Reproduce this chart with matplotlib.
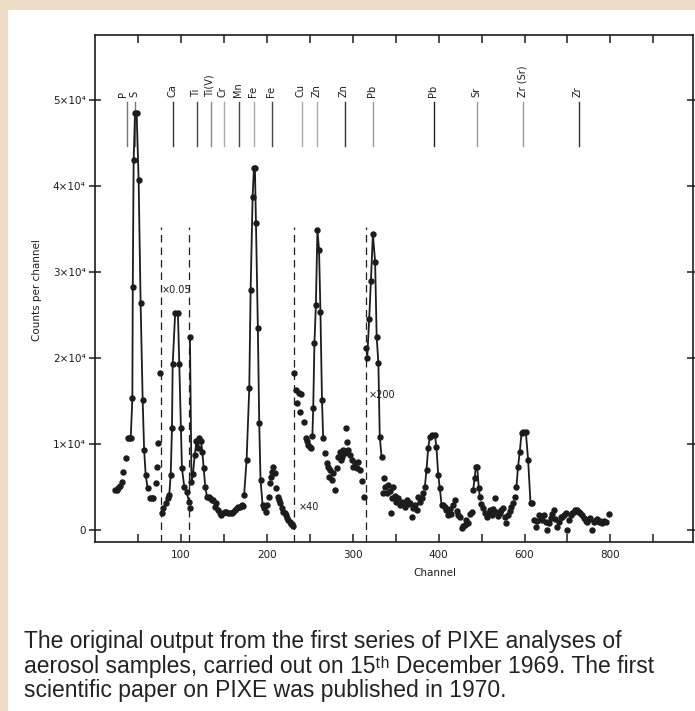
import numpy as np
import matplotlib.pyplot as plt
from matplotlib.patches import Rectangle

# ---- spectrum points (channel, counts per channel) ----
channel = [
    23.6, 25.6, 27.5, 29.5, 31.4, 33.3, 36.4, 38.5, 39.6,
    41.9, 43.8, 44.3, 45.3, 46.9, 48.8, 51.1, 53.4, 55.8, 57.5, 59.3, 61.6,
    64.0, 66.3, 68.2, 70.9, 72.8, 74.0, 76.0,
    78.6, 79.8, 82.5, 84.9, 86.7, 88.4, 89.9, 90.7, 93.6, 96.8, 98.4, 100.3,
    101.5, 104.2, 107.0, 109.6, 110.4,
    110.8, 112.6, 114.3, 116.4, 118.4, 120.2, 121.8, 123.6, 125.2, 126.8, 128.6, 130.6,
    132.6, 134.4, 136.2, 138.0, 139.9, 141.5, 143.3, 145.2, 147.2, 149.3, 151.3,
    153.3, 155.3, 157.3, 159.3, 161.2, 163.2, 165.1, 167.0, 169.0, 171.0, 172.8,
    173.8, 176.7, 179.8, 181.4, 183.7, 185.2, 186.4, 187.6, 189.8, 191.4, 192.9, 195.3,
    196.8, 198.8, 200.3, 202.7, 203.8, 205.5, 206.8, 207.9, 209.7, 211.4, 213.2,
    214.9, 216.0, 217.6, 219.3, 220.8, 222.4, 223.8, 225.3, 226.7, 228.3, 229.6, 231.0,
    232.2, 234.1, 235.9, 237.5, 238.7, 240.5, 243.4, 245.7, 247.2, 248.7, 250.3, 251.9,
    253.2, 254.2, 255.6, 257.3, 259.1, 261.0, 262.6, 264.4, 265.8,
    268.2, 270.0, 271.7, 272.9, 274.3, 275.6, 277.5, 279.4, 281.4, 283.3, 285.2,
    286.5, 287.6, 289.1, 290.8, 292.6, 293.9, 295.0, 296.9, 298.8, 300.8, 302.7,
    304.6, 306.6, 308.5, 310.4, 313.5, 315.4,
    317.0, 319.3, 321.3, 323.6, 326.2, 328.0, 330.0, 331.6, 333.7,
    335.6, 336.6, 338.2, 339.8, 341.4, 343.0, 344.2, 346.0, 347.3, 349.0, 351.0,
    353.0, 355.0, 357.0, 359.0, 360.8, 362.8, 364.6, 366.6, 368.6, 370.5, 372.5,
    374.4, 376.3, 378.2, 380.2, 382.1,
    384.0, 386.0, 387.9, 389.9, 391.9, 395.7, 397.5, 399.6, 403.0, 407.0,
    410.5, 414.6, 418.4, 422.3, 426.0, 430.0, 434.0, 438.0, 442.0, 446.0, 449.5,
    453.5, 457.2, 461.0, 465.0, 469.0, 472.8, 476.7,
    480.5, 483.8, 486.7, 489.8, 493.7, 496.0,
    499.5, 502.3, 507.0, 511.6, 515.4, 519.2, 523.3, 527.0, 531.0, 534.8, 538.6,
    542.5, 546.3, 550.0, 554.0, 558.0, 562.0, 565.8, 569.5, 573.5, 577.4,
    581.2, 585.0, 589.0, 593.0, 596.7, 603.0, 608.4, 614.0, 617.7,
    621.6, 625.6, 629.5, 633.4, 637.2, 641.1, 645.0, 648.9, 652.8, 656.6, 660.5,
    664.3, 668.1, 672.0, 676.0, 680.0, 683.8, 687.7, 691.5, 695.4, 699.3, 703.1,
    707.0, 710.9, 714.8, 718.6, 722.5, 726.4, 730.2, 734.1, 738.0, 741.9, 745.8,
    749.6, 753.5, 757.4, 761.3, 765.2, 769.0, 772.8, 776.7, 780.6, 784.5, 790.7, 797.0,
]
counts = [
    4650, 4650, 4850, 5100, 5620, 6780, 8340, 10700, 10660,
    10660, 15300, 28300, 43000, 48500, 48500, 40700, 26400, 15100, 9300, 6400, 4850,
    3700, 3690, 3690, 5430, 7370, 10080, 18220,
    1940, 2520, 3100, 3690, 4070, 6400, 11830, 19300, 25200, 25200, 19300, 11830,
    7170, 5040, 4460, 3300, 2520,
    22490, 5620, 6500, 8720, 10400, 9500, 10660, 10400, 9100, 7170, 5040, 3880,
    3880, 3690, 3490, 3490, 2710, 3100, 2330, 1940, 1740, 1940, 2130,
    2130, 1940, 1940, 1940, 2130, 2330, 2520, 2710, 2710, 2900, 2790,
    4070, 8140, 16470, 27900, 38760, 42050, 42050, 35680, 23520, 12400, 5810, 2910,
    2520, 2130, 2910, 3880, 5430, 6200, 6780, 7290, 6590, 4850, 3880,
    3490, 3100, 2520, 2130, 1940, 1740, 1360, 1160, 970, 750, 660, 470,
    18220, 16300, 14730, 15900, 13760, 15850, 12600, 10660, 10300, 9880, 9600, 9500,
    10900, 14150, 21700, 26160, 34880, 32560, 25380, 15100, 10660,
    8920, 7800, 7370, 6200, 6980, 5850, 6600, 4650, 7170, 8530, 9110,
    8140, 8530, 9300, 8900, 11830, 10270, 9300, 8720, 8140, 7370, 7750,
    7170, 7950, 6980, 5700, 3880, 21130,
    19970, 24500, 28900, 34400, 31200, 22480, 19400, 10850, 8520,
    4260, 6010, 5000, 4260, 5230, 4500, 1940, 3690, 5040, 4000, 3300,
    3690, 2900, 3300, 3100, 2710, 3490, 3000, 3100, 1550, 2520, 2900,
    2330, 3880, 3300, 3690, 4260,
    5000, 6980, 9500, 10850, 11050, 11050, 9690, 6400, 4850, 2910,
    2900, 2710, 2300, 1740, 2500, 1900, 2900, 3490, 2200, 1800, 1550,
    200, 500, 580, 1200, 800, 1900, 2130,
    4650, 6000, 7290, 7370, 4850, 3880,
    3000, 2520, 2000, 1550, 1900, 2300, 1740, 2400, 3690, 2100, 1600,
    1940, 2300, 2520, 1500, 780, 1800, 2200, 2710, 3100, 3880,
    5000, 7370, 9100, 11240, 11430, 11430, 8140, 3100, 3100,
    1200, 390, 1000, 1800, 1550, 1200, 1740, 900, 0, 800, 1360,
    1900, 2330, 1300, 390, 970, 1500, 1550, 1700, 1940, 0, 1200,
    1740, 1950, 2130, 2300, 2330, 2100, 1940, 1700, 1360, 1100, 970,
    1300, 1360, 0, 900, 1160, 1300, 970, 1100, 780, 1100, 970, 1900,
]

# channel ranges joined by a drawn line (the peaks)
peak_spans = [(41, 62), (78, 110), (110.6, 131), (173, 196), (253, 266),
              (316.5, 334), (383.5, 407.5), (480, 496.5), (581, 618)]

# element markers along the top
elements = ['P', 'S', 'Ca', 'Ti', 'Ti(V)', 'Cr', 'Mn', 'Fe', 'Fe', 'Cu', 'Zn',
            'Zn', 'Pb', 'Pb', 'Sr', 'Zr (Sr)', 'Zr']
element_ch = [37.2, 46.9, 91.4, 118.6, 135.2, 150.3, 168.1, 185.2, 206.5, 240.7,
              258.8, 291, 323.3, 394.5, 489.8, 596.7, 727]

# scale change marks (dashed lines) and their factors
scale_edges = [77, 110, 232, 316]
scale_labels = ['×0.05', '×40', '×200']
scale_label_ch = [78, 237, 319]
scale_label_y = [27900, 2700, 15700]

y_ticks = [0, 10000, 20000, 30000, 40000, 50000]
y_labels = ['0', '1×10⁴', '2×10⁴', '3×10⁴', '4×10⁴', '5×10⁴']
x_major = [100, 200, 300, 400, 600, 800]
x_minor = [50, 150, 250, 350, 500, 700, 900]

caption_lines = [
    'The original output from the first series of PIXE analyses of',
    'aerosol samples, carried out on 15ᵗʰ December 1969. The first',
    'scientific paper on PIXE was published in 1970.',
]

ink = '#1c1c1c'


# channels above 400 are drawn at half scale in the original
def fwd(x):
    x = np.asarray(x, dtype=float)
    return np.where(x <= 400, x, 400 + (x - 400) / 2)


def inv(x):
    x = np.asarray(x, dtype=float)
    return np.where(x <= 400, x, 400 + (x - 400) * 2)


fig = plt.figure(figsize=(6.95, 7.11), dpi=100)
fig.patch.set_facecolor('#efdcc6')
fig.add_artist(Rectangle((8 / 695, 0), 1, 1 - 10 / 711, transform=fig.transFigure,
                         facecolor='white', edgecolor='none', zorder=-5))

ax = fig.add_axes([94.7 / 695, 1 - 541.7 / 711, 598.3 / 695, 506.7 / 711])
ax.set_xscale('function', functions=(fwd, inv))
ax.set_xlim(0, 992)
ax.set_ylim(-1360, 57560)

ch = np.array(channel)
ct = np.array(counts)
ax.plot(ch, ct, 'o', color=ink, ms=3.6, zorder=3)
for a, b in peak_spans:
    m = (ch >= a) & (ch <= b)
    ax.plot(ch[m], ct[m], '-', color=ink, lw=1.3, zorder=3)

for e in scale_edges:
    ax.plot([e, e], [-1360, 35200], color=ink, lw=0.9, ls=(0, (6, 4)), zorder=2)
for s, c, y in zip(scale_labels, scale_label_ch, scale_label_y):
    ax.text(c, y, s, fontsize=7, color=ink, va='center', ha='left')

# element lines and names
shade = ['#777', '#777', '#333', '#444', '#888', '#aaa', '#444', '#aaa', '#444',
         '#aaa', '#aaa', '#333', '#999', '#222', '#999', '#999', '#333']
nudge = [-4, -1, -1, -1, -1, -1, -1, -1, -1, -1, -1, -1, -1, -1, -1, -1, -1]
for name, c, col, dx in zip(elements, element_ch, shade, nudge):
    ax.plot([c, c], [44600, 49800], color=col, lw=1.0, zorder=1)
    ax.annotate(name, (c, 50300), xytext=(dx, 0), textcoords='offset pixels',
                rotation=90, ha='center', va='bottom', fontsize=7, color=ink)

ax.set_yticks(y_ticks)
ax.set_yticklabels(y_labels)
ax.set_xticks(x_major)
ax.set_xticks(x_minor, minor=True)
ax.set_xticklabels([str(v) for v in x_major])
ax.tick_params(axis='x', which='both', direction='in', length=6, width=1.1,
               top=True, color=ink, labelsize=7.5, labelcolor=ink, pad=6)
ax.tick_params(axis='y', which='both', direction='inout', length=9, width=1.1,
               right=True, color=ink, labelsize=7.5, labelcolor=ink, pad=2)
for sp in ax.spines.values():
    sp.set_color(ink)
    sp.set_linewidth(1.2)

ax.set_ylabel('Counts per channel', fontsize=7.5, color=ink)
ax.yaxis.set_label_coords(-0.088, 0.497)
ax.set_xlabel('Channel', fontsize=7.5, color=ink)
ax.xaxis.set_label_coords(0.569, -0.052)

for i, line in enumerate(caption_lines):
    fig.text(24 / 695, 1 - (648 + 24.5 * i) / 711, line, fontsize=16.5,
             family=['Liberation Sans', 'DejaVu Sans'], color='#222',
             va='baseline', ha='left')

fig.savefig('out.png', dpi=100, facecolor=fig.get_facecolor())
